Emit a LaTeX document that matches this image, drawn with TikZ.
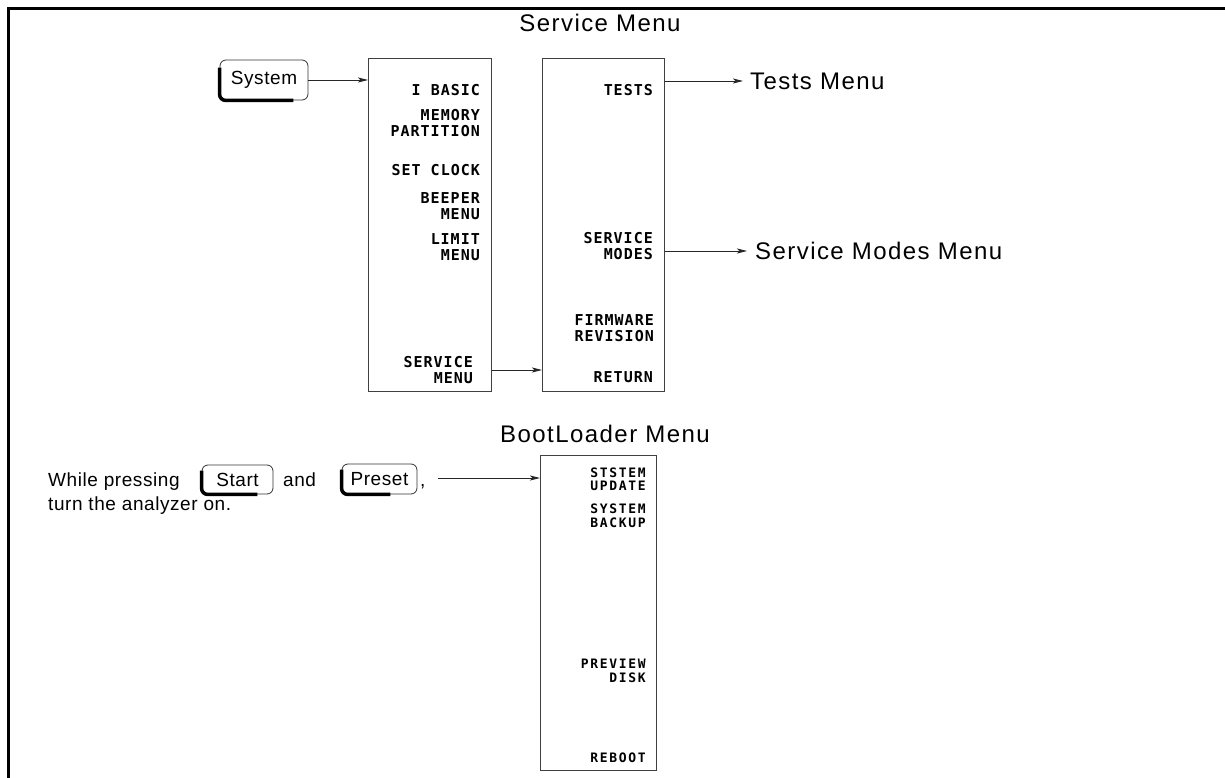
\documentclass[tikz,border=0pt]{standalone}
\usepackage{fontspec}
\setmainfont{Liberation Sans}
\newfontfamily\menufont{DejaVu Sans Mono}[LetterSpace=6.5]
\newfontfamily\bootfont{DejaVu Sans Mono}[LetterSpace=13]
\newfontfamily\headfont{Liberation Sans}[LetterSpace=6]
\newfontfamily\bodyfont{Liberation Sans}[LetterSpace=3]
\usetikzlibrary{arrows.meta}

\begin{document}
\begin{tikzpicture}[x=1pt, y=-1pt,
    menubox/.style={draw=black!75, line width=1pt, inner sep=0pt, anchor=north west},
    menulbl/.style={font=\menufont\bfseries\fontsize{15}{16.5}\selectfont, align=right, anchor=east, inner sep=0pt},
    bootlbl/.style={font=\bootfont\bfseries\fontsize{13}{13.5}\selectfont, align=right, anchor=east, inner sep=0pt},
    head/.style={font=\headfont\fontsize{24}{28}\selectfont, inner sep=0pt},
    txt/.style={font=\bodyfont\fontsize{19}{22}\selectfont, inner sep=0pt, anchor=base west},
    keycap/.style={draw=black!80, line width=0.8pt, rounded corners=6pt, font=\bodyfont\fontsize{19}{22}\selectfont, inner sep=0pt},
    keyshadow/.style={line width=3.5pt, rounded corners=6pt},
    arr/.style={-{Stealth[length=10pt, width=5pt, inset=2.5pt]}, black!85, line width=0.9pt}]
    \useasboundingbox (0,0) rectangle (1225,778);

    %frame
    \draw[line width=3.5pt] (8.5,778) -- (8.5,8.5) -- (1225,8.5);

    %titles
    \node[head] (ttlService) at (600,22.5) {Service Menu};
    \node[head] (ttlBoot) at (605,433.5) {BootLoader Menu};
    \node[head, anchor=west] (ttlTests) at (750,81) {Tests Menu};
    \node[head, anchor=west] (ttlModes) at (755,251) {Service Modes Menu};

    %menu boxes
    \node[menubox, minimum width=123pt, minimum height=333pt] (svcA) at (368,58) {};
    \node[menubox, minimum width=122pt, minimum height=333pt] (svcB) at (542,58) {};
    \node[menubox, minimum width=116pt, minimum height=315pt] (boot) at (540,455) {};

    %softkeys (first menu)
    \node[menulbl] (lblBasic) at (480,90.5) {I BASIC};
    \node[menulbl] (lblMemory) at (480,123) {MEMORY\\PARTITION};
    \node[menulbl] (lblClock) at (480,170) {SET CLOCK};
    \node[menulbl] (lblBeeper) at (480,206) {BEEPER\\MENU};
    \node[menulbl] (lblLimit) at (480,247) {LIMIT\\MENU};
    \node[menulbl] (lblSvcMenu) at (473,370) {SERVICE\\MENU};

    %softkeys (service menu)
    \node[menulbl] (lblTests) at (653,90.5) {TESTS};
    \node[menulbl] (lblModes) at (653,246) {SERVICE\\MODES};
    \node[menulbl] (lblFirmware) at (654,328) {FIRMWARE\\REVISION};
    \node[menulbl] (lblReturn) at (653,377) {RETURN};

    %softkeys (bootloader)
    \node[bootlbl] (lblUpdate) at (646,479.5) {STSTEM\\UPDATE};
    \node[bootlbl] (lblBackup) at (646,516) {SYSTEM\\BACKUP};
    \node[bootlbl] (lblPreview) at (646,671) {PREVIEW\\DISK};
    \node[bootlbl] (lblReboot) at (646,758) {REBOOT};

    %hardkeys
    \node[keycap, minimum width=88pt, minimum height=40pt] (keySystem) at (264,80) {System};
    \node[keycap, minimum width=71pt, minimum height=29pt] (keyStart) at (237.5,479.5) {Start};
    \node[keycap, minimum width=75pt, minimum height=30pt] (keyPreset) at (379.5,479) {Preset};
    \draw[keyshadow] ([yshift=-8pt]keySystem.north west) |- ([xshift=-15pt]keySystem.south east);
    \draw[keyshadow] ([yshift=-6pt]keyStart.north west) |- ([xshift=-16pt]keyStart.south east);
    \draw[keyshadow] ([yshift=-6pt]keyPreset.north west) |- ([xshift=-27pt]keyPreset.south east);

    %instructions
    \node[txt] (txtWhile) at (48,486) {While pressing};
    \node[txt] (txtAnd) at (283,486) {and};
    \node[txt] (txtComma) at (420,486) {,};
    \node[txt] (txtTurn) at (48,510) {turn the analyzer on.};
    \coordinate (bootStart) at (438,478);

    %arrows
    \draw[arr] (keySystem.east) -- (svcA.west |- keySystem.east);
    \draw[arr] (svcA.east |- lblSvcMenu.east) -- (svcB.west |- lblSvcMenu.east);
    \draw[arr] (svcB.east |- ttlTests.west) -- ([xshift=-7pt]ttlTests.west);
    \draw[arr] (svcB.east |- ttlModes.west) -- ([xshift=-8pt]ttlModes.west);
    \draw[arr] (bootStart) -- (boot.west |- bootStart);
\end{tikzpicture}
\end{document}
